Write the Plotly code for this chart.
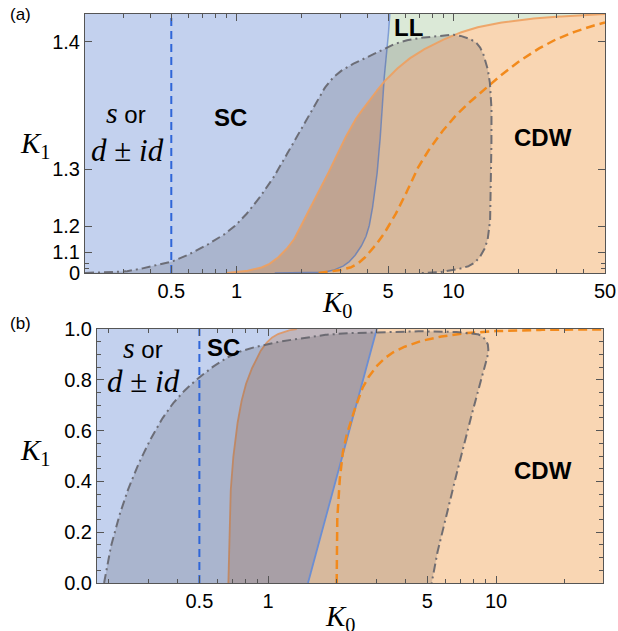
import numpy as np
import plotly.graph_objects as go

# ---------------- data ----------------
# panel (a): K1 axis is drawn on an exponential scale, K0 on a log scale
A_BLUE_K0 = [1.50, 2.00, 2.44, 2.81, 3.24, 3.66, 4.00, 4.29, 4.48, 4.61, 4.69, 4.77, 4.95, 5.09]
A_BLUE_K1 = [0.00, 0.30, 0.57, 0.857, 1.003, 1.111, 1.180, 1.256, 1.303, 1.337, 1.364, 1.376, 1.396, 1.4142]

A_OR_K0 = [0.90, 1.05, 1.385, 1.774, 2.118, 2.525, 3.015, 3.60, 4.145, 4.77, 6.34, 10.0, 14.3, 23.4, 39.7, 50.0]
A_OR_K1 = [0.00, 0.75, 0.979, 1.140, 1.231, 1.283, 1.324, 1.351, 1.364, 1.376, 1.391, 1.4035, 1.4087, 1.412, 1.4136, 1.4142]

A_DASH_K0 = [2.39, 2.86, 3.54, 4.38, 5.13, 5.90, 6.84, 8.11, 10.25, 14.1, 19.6, 28.2, 40.0, 50.0]
A_DASH_K1 = [0.00, 0.806, 0.979, 1.136, 1.2085, 1.259, 1.301, 1.328, 1.352, 1.372, 1.388, 1.400, 1.407, 1.410]

A_GRAY_K0 = [0.20, 0.30, 0.40, 0.50, 0.683, 0.972, 1.385, 1.972, 2.808, 4.003, 5.698, 8.115, 10.4,
             12.86, 14.3, 14.92, 14.92, 14.81, 14.04, 12.41, 10.03, 8.10, 7.00]
A_GRAY_K1 = [0.30, 0.75, 0.950, 1.0225, 1.120, 1.1988, 1.2767, 1.3397, 1.3794, 1.3915, 1.3999, 1.4029, 1.4035,
             1.399, 1.3856, 1.3636, 1.3027, 1.2233, 1.128, 1.0035, 0.857, 0.57, 0.00]

# panel (b): linear K1 axis, log K0 axis
B_BLUE_K0 = [1.497, 1.716, 1.967, 2.255, 2.597, 3.00]
B_BLUE_K1 = [0.000, 0.197, 0.394, 0.591, 0.787, 1.000]

B_OR_K0 = [0.670, 0.677, 0.693, 0.717, 0.754, 0.807, 0.877, 0.954, 1.055, 1.208, 1.336]
B_OR_K1 = [0.000, 0.228, 0.425, 0.556, 0.688, 0.793, 0.871, 0.930, 0.970, 0.992, 1.000]

B_DASH_K0 = [2.00, 2.00, 2.034, 2.139, 2.366, 2.709, 3.316, 4.339, 6.284, 8.797, 14.58, 29.5]
B_DASH_K1 = [0.00, 0.17, 0.327, 0.524, 0.667, 0.799, 0.891, 0.943, 0.976, 0.989, 0.996, 0.9985]

B_GRAY_K0 = [0.191, 0.203, 0.240, 0.304, 0.384, 0.503, 0.705, 0.987, 1.382, 1.934, 2.709, 4.64,
             6.95, 8.51, 9.10, 9.25, 8.51, 7.44, 6.50, 5.68, 5.22]
B_GRAY_K1 = [0.000, 0.130, 0.353, 0.563, 0.708, 0.812, 0.900, 0.940, 0.963, 0.980, 0.986, 0.991,
             0.987, 0.976, 0.950, 0.917, 0.786, 0.589, 0.379, 0.169, 0.000]

VLINE_K0 = 0.5

A_XTICKS = [0.5, 1, 5, 10, 50]
A_XTICK_TEXT = ["0.5", "1", "5", "10", "50"]
A_XMINOR = [0.3, 0.4, 0.6, 0.7, 0.8, 0.9, 2, 3, 4, 6, 7, 8, 9, 20, 30, 40]
A_YTICKS = [0, 1.1, 1.2, 1.3, 1.4]
A_YTICK_TEXT = ["0", "1.1", "1.2", "1.3", "1.4"]
A_YMINOR = [0.9, 1.0]

B_XTICKS = [0.5, 1, 5, 10]
B_XTICK_TEXT = ["0.5", "1", "5", "10"]
B_XMINOR = [0.2, 0.3, 0.4, 0.6, 0.7, 0.8, 0.9, 2, 3, 4, 6, 7, 8, 9, 20]
B_YTICKS = [0.0, 0.2, 0.4, 0.6, 0.8, 1.0]
B_YTICK_TEXT = ["0.0", "0.2", "0.4", "0.6", "0.8", "1.0"]

# ---------------- geometry / styles ----------------
FW, FH = 618, 631
EXPK = 8.0
A_KTOP = 1.4142


def ya(k):
    return np.exp(EXPK * np.asarray(k, float))


def yb(k):
    return np.asarray(k, float)


PA = dict(box=(85, 605, 14, 273), xr=(np.log10(0.2), np.log10(50)),
          yr=(1.0, float(ya(A_KTOP))), yf=ya)
PB = dict(box=(97, 603, 329, 583), xr=(-0.75, 1.469), yr=(0.0, 1.0), yf=yb)
for P in (PA, PB):
    l, r, t, b = P["box"]
    P["w"] = r - l
    P["h"] = b - t


def catmull(u, v, n=30):
    pts = np.column_stack([u, v]).astype(float)
    ext = np.vstack([2 * pts[0] - pts[1], pts, 2 * pts[-1] - pts[-2]])
    out = []
    for i in range(1, len(ext) - 2):
        p0, p1, p2, p3 = ext[i - 1], ext[i], ext[i + 1], ext[i + 2]

        def tj(ti, a, b):
            return ti + max(np.linalg.norm(b - a), 1e-6) ** 0.5
        t0 = 0.0
        t1 = tj(t0, p0, p1)
        t2 = tj(t1, p1, p2)
        t3 = tj(t2, p2, p3)
        t = np.linspace(t1, t2, n, endpoint=False)[:, None]
        A1 = (t1 - t) / (t1 - t0) * p0 + (t - t0) / (t1 - t0) * p1
        A2 = (t2 - t) / (t2 - t1) * p1 + (t - t1) / (t2 - t1) * p2
        A3 = (t3 - t) / (t3 - t2) * p2 + (t - t2) / (t3 - t2) * p3
        B1 = (t2 - t) / (t2 - t0) * A1 + (t - t0) / (t2 - t0) * A2
        B2 = (t3 - t) / (t3 - t1) * A2 + (t - t1) / (t3 - t1) * A3
        out.append((t2 - t) / (t2 - t1) * B1 + (t - t1) / (t2 - t1) * B2)
    out.append(pts[-1][None, :])
    return np.vstack(out)


def to_px(P, k0, k1):
    x0, x1 = P["xr"]
    y0, y1 = P["yr"]
    u = (np.log10(np.asarray(k0, float)) - x0) / (x1 - x0) * P["w"]
    v = (P["yf"](k1) - y0) / (y1 - y0) * P["h"]
    return u, v


def from_px(P, u, v):
    x0, x1 = P["xr"]
    y0, y1 = P["yr"]
    u = np.clip(u, 0, P["w"])
    v = np.clip(v, 0, P["h"])
    return 10 ** (x0 + u / P["w"] * (x1 - x0)), y0 + v / P["h"] * (y1 - y0)


def smooth_px(P, k0, k1):
    u, v = to_px(P, k0, k1)
    c = catmull(u, v)
    return c[:, 0], c[:, 1]


def smooth(P, k0, k1):
    u, v = smooth_px(P, k0, k1)
    return from_px(P, u, v)


def as_row_func(P, k0, k1, vg):
    u, v = smooth_px(P, k0, k1)
    v = np.maximum.accumulate(np.clip(v, 0, P["h"]))
    return np.interp(vg, v, u)


def band(P, L, R, vg, mask=None):
    if mask is None:
        mask = np.ones_like(vg, bool)
    Lm, Rm, vm = L[mask], R[mask], vg[mask]
    u = np.concatenate([Lm, Rm[::-1]])
    v = np.concatenate([vm, vm[::-1]])
    return from_px(P, u, v)


COL_BLUE = "#c3d1ee"
COL_GREEN = "#dbe9d7"
COL_ORANGE = "#f9d6b3"
COL_BO_A = "#ddbca5"
COL_BO_B = "#c0b6bd"
COL_OVER = "rgba(60,58,60,0.18)"
FRAME = "#555555"

fig = go.Figure()


def add_fill(xs, ys, color, ax):
    fig.add_trace(go.Scatter(x=xs, y=ys, mode="lines", fill="toself", fillcolor=color,
                             line=dict(width=0), hoverinfo="skip", xaxis=ax[0], yaxis=ax[1]))


def add_line(xs, ys, color, width, dash, ax):
    fig.add_trace(go.Scatter(x=xs, y=ys, mode="lines", line=dict(color=color, width=width, dash=dash),
                             hoverinfo="skip", xaxis=ax[0], yaxis=ax[1]))


def panel(P, ax, blue, orange, dash, gray, bo_col, order):
    vg = np.linspace(0, P["h"], 700)
    ub = as_row_func(P, blue[0], blue[1], vg)
    uo = as_row_func(P, orange[0], orange[1], vg)
    lo = np.minimum(ub, uo)
    hi = np.maximum(ub, uo)
    zero = np.zeros_like(vg)
    add_fill(*band(P, zero, lo, vg), COL_BLUE, ax)
    m = uo < ub
    if m.any():
        add_fill(*band(P, uo, hi, vg, m), bo_col, ax)
    m = ub < uo
    if m.sum() > 1:
        add_fill(*band(P, ub, hi, vg, m), COL_GREEN, ax)
    bx, by = smooth(P, *blue)
    ox, oy = smooth(P, *orange)
    gx, gy = smooth(P, *gray)
    dx, dy = smooth(P, *dash)
    if order == "a":
        add_line(bx, by, "rgba(95,135,215,0.75)", 1.5, "solid", ax)
        add_fill(gx, gy, COL_OVER, ax)
        add_line(ox, oy, "rgba(238,160,95,0.9)", 2.0, "solid", ax)
    else:
        add_line(ox, oy, "rgba(222,150,100,0.9)", 1.8, "solid", ax)
        add_fill(gx, gy, COL_OVER, ax)
        add_line(bx, by, "#6b8ed3", 1.8, "solid", ax)
    add_line(dx, dy, "#f28a1c", 2.5, "9px,5px", ax)
    y0, y1 = P["yr"]
    add_line([VLINE_K0, VLINE_K0], [y0, y1], "#2f66d8", 2.0, "8px,5px", ax)
    add_line(gx, gy, "rgba(100,100,108,0.9)", 2.0, "9px,4px,2px,4px", ax)


panel(PA, ("x", "y"), (A_BLUE_K0, A_BLUE_K1), (A_OR_K0, A_OR_K1), (A_DASH_K0, A_DASH_K1),
      (A_GRAY_K0, A_GRAY_K1), COL_BO_A, "a")
panel(PB, ("x2", "y2"), (B_BLUE_K0, B_BLUE_K1), (B_OR_K0, B_OR_K1), (B_DASH_K0, B_DASH_K1),
      (B_GRAY_K0, B_GRAY_K1), COL_BO_B, "b")

TICKFONT = dict(family="Liberation Sans, Arial, sans-serif", size=20, color="black")


def common_axis():
    return dict(tickmode="array", ticks="inside", ticklen=7, tickwidth=1, tickcolor=FRAME,
                showline=True, linecolor=FRAME, linewidth=1, mirror="ticks", showgrid=False,
                zeroline=False, tickfont=TICKFONT, automargin=False)


def xaxis(P, anchor, tv, tt, minor):
    l, r, t, b = P["box"]
    d = common_axis()
    d.update(domain=[l / FW, r / FW], anchor=anchor, type="log", range=list(P["xr"]),
             tickvals=tv, ticktext=tt,
             minor=dict(tickmode="array", tickvals=minor, ticks="inside", ticklen=4,
                        tickcolor=FRAME, showgrid=False))
    return d


def yaxis(P, anchor, tv, tt, minor):
    l, r, t, b = P["box"]
    d = common_axis()
    d.update(domain=[1 - b / FH, 1 - t / FH], anchor=anchor, range=list(P["yr"]),
             tickvals=tv, ticktext=tt,
             minor=dict(tickmode="array", tickvals=minor, ticks="inside", ticklen=4,
                        tickcolor=FRAME, showgrid=False))
    return d


B_YMINOR = [v / 20 for v in range(21) if v % 4 != 0]

fig.update_layout(
    template="none",
    width=FW, height=FH, margin=dict(l=0, r=0, t=0, b=0, pad=0, autoexpand=False),
    paper_bgcolor="white", plot_bgcolor=COL_ORANGE, showlegend=False,
    xaxis=xaxis(PA, "y", A_XTICKS, A_XTICK_TEXT, A_XMINOR),
    yaxis=yaxis(PA, "x", list(ya(A_YTICKS)), A_YTICK_TEXT, list(ya(A_YMINOR))),
    xaxis2=xaxis(PB, "y2", B_XTICKS, B_XTICK_TEXT, B_XMINOR),
    yaxis2=yaxis(PB, "x2", B_YTICKS, B_YTICK_TEXT, B_YMINOR),
)

SANS = "Liberation Sans, Arial, sans-serif"
SERIF = "Liberation Serif, Times New Roman, serif"


def note(px, py, text, family, size, bold=False):
    fig.add_annotation(x=px / FW, y=1 - py / FH, xref="paper", yref="paper", text=text,
                       showarrow=False, xanchor="center", yanchor="middle",
                       font=dict(family=family, size=size, color="black",
                                 weight="bold" if bold else "normal"))


S_OR = "<i><span style='font-family:Liberation Serif;font-size:30px'>s</span></i> or"
D_ID = "<i>d</i> ± <i>id</i>"

note(20, 15, "(a)", SANS, 17)
note(20, 323, "(b)", SANS, 17)
note(35, 145, "<i>K</i><sub>1</sub>", SERIF, 29)
note(35, 452, "<i>K</i><sub>1</sub>", SERIF, 29)
note(337, 304, "<i>K</i><sub>0</sub>", SERIF, 29)
note(340, 618, "<i>K</i><sub>0</sub>", SERIF, 29)
note(126, 112, S_OR, SANS, 24)
note(127, 151, D_ID, SERIF, 31)
note(143, 347, S_OR, SANS, 24)
note(143, 381, D_ID, SERIF, 31)
note(230, 117, "SC", SANS, 24, True)
note(223, 347, "SC", SANS, 24, True)
note(408, 28, "LL", SANS, 24, True)
note(543, 137, "CDW", SANS, 24, True)
note(543, 470, "CDW", SANS, 24, True)

fig.write_html("out.html", config={"displayModeBar": False, "staticPlot": True},
               post_script="document.body.style.margin='0px';document.body.style.overflow='hidden';")
